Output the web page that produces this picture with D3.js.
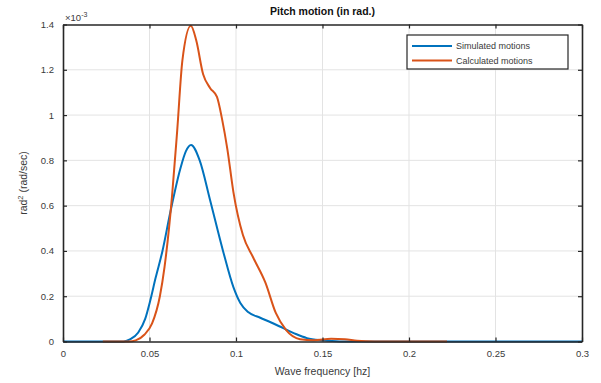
<!DOCTYPE html>
<html>
<head>
<meta charset="utf-8">
<script src="https://cdn.jsdelivr.net/npm/d3@7"></script>
<style>
  html, body { margin: 0; padding: 0; background: #fff; }
  svg { display: block; font-family: "Liberation Sans", Arial, sans-serif; }
</style>
</head>
<body>
<script>
// Pitch motion spectra (values in units of 1e-3 rad^2/(rad/sec))
const simFreq = [0, 0.035, 0.039, 0.0435, 0.0475, 0.0504, 0.0535, 0.0575, 0.062, 0.0677, 0.071, 0.074, 0.079, 0.085, 0.0925, 0.0985, 0.1025, 0.107, 0.114, 0.12, 0.127, 0.134, 0.141, 0.15, 0.16, 0.3];
const simVals = [0, 0, 0.01, 0.04, 0.1, 0.18, 0.28, 0.4, 0.57, 0.76, 0.84, 0.868, 0.8, 0.625, 0.4, 0.24, 0.17, 0.13, 0.105, 0.085, 0.06, 0.035, 0.015, 0.005, 0, 0];

const calcFreq = [0.023, 0.038, 0.042, 0.047, 0.0515, 0.056, 0.0587, 0.063, 0.066, 0.069, 0.0739, 0.077, 0.081, 0.085, 0.089, 0.092, 0.095, 0.0985, 0.104, 0.11, 0.117, 0.123, 0.129, 0.137, 0.145, 0.155, 0.163, 0.17, 0.18, 0.222];
const calcVals = [0, 0, 0.005, 0.03, 0.08, 0.2, 0.33, 0.64, 0.93, 1.24, 1.394, 1.33, 1.18, 1.12, 1.08, 0.98, 0.85, 0.66, 0.47, 0.37, 0.26, 0.126, 0.05, 0.01, 0.005, 0.012, 0.01, 0.003, 0, 0];

const xTicks = [0, 0.05, 0.1, 0.15, 0.2, 0.25, 0.3];
const xTickLabels = ["0", "0.05", "0.1", "0.15", "0.2", "0.25", "0.3"];
const yTicks = [0, 0.2, 0.4, 0.6, 0.8, 1, 1.2, 1.4];
const yTickLabels = ["0", "0.2", "0.4", "0.6", "0.8", "1", "1.2", "1.4"];

const seriesNames = ["Simulated motions", "Calculated motions"];
const seriesColors = ["#0072BD", "#D95319"];

const W = 601, H = 383;
const m = { left: 63, right: 19, top: 24.5, bottom: 41.5 };

const svg = d3.select("body").append("svg").attr("width", W).attr("height", H);

const x = d3.scaleLinear().domain([0, 0.3]).range([m.left, W - m.right]);
const y = d3.scaleLinear().domain([0, 1.4]).range([H - m.bottom, m.top]);

const axisColor = "#262626";
const textColor = "#3a3a3a";

// grid
const grid = svg.append("g");
grid.selectAll(".gx").data(xTicks.slice(1, -1)).join("line")
  .attr("x1", d => x(d)).attr("x2", d => x(d))
  .attr("y1", y(0)).attr("y2", y(1.4))
  .attr("stroke", "#e3e3e3").attr("stroke-width", 1);
grid.selectAll(".gy").data(yTicks.slice(1, -1)).join("line")
  .attr("x1", x(0)).attr("x2", x(0.3))
  .attr("y1", d => y(d)).attr("y2", d => y(d))
  .attr("stroke", "#e3e3e3").attr("stroke-width", 1);

// curves
const line = d3.line().x(d => x(d[0])).y(d => y(d[1])).curve(d3.curveMonotoneX);
const simData = simFreq.map((f, i) => [f, simVals[i]]);
const calcData = calcFreq.map((f, i) => [f, calcVals[i]]);

svg.append("path").datum(simData).attr("d", line)
  .attr("fill", "none").attr("stroke", seriesColors[0]).attr("stroke-width", 2);
svg.append("path").datum(calcData).attr("d", line)
  .attr("fill", "none").attr("stroke", seriesColors[1]).attr("stroke-width", 2);

// axes (ticks inward, box)
const xAxis = d3.axisBottom(x).tickValues(xTicks).tickFormat((d, i) => xTickLabels[i]).tickSizeInner(-4).tickSizeOuter(0).tickPadding(9);
const yAxis = d3.axisLeft(y).tickValues(yTicks).tickFormat((d, i) => yTickLabels[i]).tickSizeInner(-4).tickSizeOuter(0).tickPadding(9);
const xTop = d3.axisTop(x).tickValues(xTicks).tickFormat("").tickSizeInner(-4).tickSizeOuter(0);
const yRight = d3.axisRight(y).tickValues(yTicks).tickFormat("").tickSizeInner(-4).tickSizeOuter(0);

function styleAxis(g) {
  g.select(".domain").attr("stroke", axisColor).attr("stroke-width", 1.6);
  g.selectAll(".tick line").attr("stroke", axisColor).attr("stroke-width", 1.2);
  g.selectAll(".tick text").attr("fill", textColor).attr("font-size", 9.5).attr("font-family", "Liberation Sans, Arial, sans-serif");
}
svg.append("g").attr("transform", `translate(0,${y(0)})`).call(xAxis).call(styleAxis);
svg.append("g").attr("transform", `translate(${x(0)},0)`).call(yAxis).call(styleAxis);
svg.append("g").attr("transform", `translate(0,${y(1.4)})`).call(xTop).call(styleAxis);
svg.append("g").attr("transform", `translate(${x(0.3)},0)`).call(yRight).call(styleAxis);

// exponent label
const ex = svg.append("text").attr("x", x(0) + 2).attr("y", y(1.4) - 4)
  .attr("fill", textColor).attr("font-size", 9.5);
ex.append("tspan").text("\u00d710");
ex.append("tspan").attr("dy", -4).attr("font-size", 7).text("-3");

// title
svg.append("text").attr("x", (x(0) + x(0.3)) / 2).attr("y", 15)
  .attr("text-anchor", "middle").attr("font-weight", "bold").attr("font-size", 10.5)
  .attr("fill", "#111").text("Pitch motion (in rad.)");

// x label
svg.append("text").attr("x", (x(0) + x(0.3)) / 2).attr("y", 375)
  .attr("text-anchor", "middle").attr("font-size", 10.5).attr("fill", textColor)
  .text("Wave frequency [hz]");

// y label
const yl = svg.append("text").attr("transform", `translate(27,${y(0.7)}) rotate(-90)`)
  .attr("text-anchor", "middle").attr("font-size", 10.5).attr("fill", textColor);
yl.append("tspan").text("rad");
yl.append("tspan").attr("dy", -4).attr("font-size", 7.5).text("2");
yl.append("tspan").attr("dy", 4).text(" (rad/sec)");

// legend
const lg = svg.append("g").attr("transform", "translate(407,35)");
lg.append("rect").attr("width", 161).attr("height", 34)
  .attr("fill", "#fff").attr("stroke", axisColor).attr("stroke-width", 1.2);
seriesNames.forEach((name, i) => {
  const yy = 11 + i * 14.5;
  lg.append("line").attr("x1", 5).attr("x2", 45).attr("y1", yy).attr("y2", yy)
    .attr("stroke", seriesColors[i]).attr("stroke-width", 2);
  lg.append("text").attr("x", 49).attr("y", yy + 3.3).attr("font-size", 9)
    .attr("fill", textColor).text(name);
});
</script>
</body>
</html>
